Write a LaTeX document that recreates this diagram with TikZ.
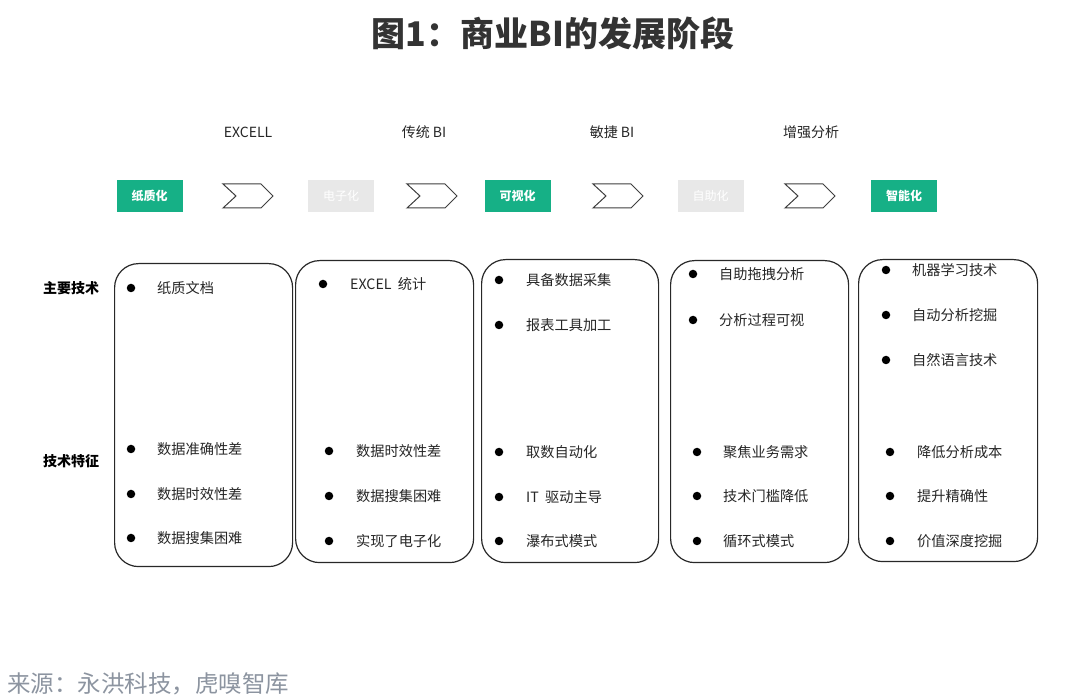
\documentclass[tikz,border=0pt]{standalone}
\usepackage{fontspec}
\setmainfont{Noto Sans CJK SC}
\usetikzlibrary{positioning}
\definecolor{stagegreen}{RGB}{22,176,134}
\definecolor{stagegray}{RGB}{232,232,232}
\definecolor{titlegray}{RGB}{51,51,51}
\definecolor{srcgray}{RGB}{140,148,160}
\definecolor{boxline}{RGB}{40,40,40}
\tikzset{
  colbox/.style={draw=boxline, line width=1.2pt, rounded corners=24pt, anchor=north west, inner sep=0pt},
  item/.style={anchor=west, inner sep=0pt, font=\fontsize{14.2}{16}\selectfont, text=black!85},
  dotmark/.style={circle, fill=black, inner sep=0pt, minimum size=8.5pt},
  rowlabel/.style={inner sep=0pt, font=\fontsize{14}{16}\selectfont\bfseries},
  stagelabel/.style={inner sep=0pt, font=\fontsize{14}{16}\selectfont, text=black!85},
  greenbox/.style={fill=stagegreen, text=white, minimum width=66pt, minimum height=32pt, inner sep=0pt, font=\fontsize{12}{14}\selectfont\bfseries},
  graybox/.style={fill=stagegray, text=white, minimum width=66pt, minimum height=32pt, inner sep=0pt, font=\fontsize{12}{14}\selectfont},
  chev/.style={draw=black!75, line width=1pt, fill=white, line join=miter}
}
\begin{document}
\begin{tikzpicture}[x=1pt,y=-1pt]
\useasboundingbox (0,0) rectangle (1080,700);
\fill[white] (0,0) rectangle (1080,700);

% title
\node[inner sep=0pt, text=titlegray, font=\fontsize{34}{38}\selectfont\bfseries] (title) at (553,33) {图1：商业BI的发展阶段};

% stage labels
\node[stagelabel] (s1) at (248,132) {EXCELL};
\node[stagelabel] (s2) at (424,132) {传统 BI};
\node[stagelabel] (s3) at (612,132) {敏捷 BI};
\node[stagelabel] (s4) at (811,132) {增强分析};

% stage boxes
\node[greenbox] (p1) at (149.5,196) {纸质化};
\node[graybox]  (p2) at (341,196) {电子化};
\node[greenbox] (p3) at (517.5,196) {可视化};
\node[graybox]  (p4) at (710.5,196) {自助化};
\node[greenbox] (p5) at (904,196) {智能化};

% chevrons
\foreach \cx in {223,407,593,785}{
  \draw[chev] (\cx,184) -- ++(38,0) -- ++(12,12) -- ++(-12,12) -- ++(-38,0) -- ++(13,-12) -- cycle;
}

% row labels
\node[rowlabel] (l1) at (71,288) {主要技术};
\node[rowlabel] (l2) at (71,461) {技术特征};

% column boxes
\node[colbox, minimum width=178pt, minimum height=303pt] (b1) at (114,263) {};
\node[colbox, minimum width=178pt, minimum height=302pt] (b2) at (295,260) {};
\node[colbox, minimum width=177pt, minimum height=303pt] (b3) at (481,259) {};
\node[colbox, minimum width=178pt, minimum height=302pt] (b4) at (670,260) {};
\node[colbox, minimum width=179pt, minimum height=302pt] (b5) at (858,259) {};

% column 1
\node[dotmark] (d11) at (131,288) {}; \node[item] (t11) at (157,288) {纸质文档};
\node[dotmark] (d12) at (131,449) {}; \node[item] (t12) at (157,449) {数据准确性差};
\node[dotmark] (d13) at (131,494) {}; \node[item] (t13) at (157,494) {数据时效性差};
\node[dotmark] (d14) at (131,538) {}; \node[item] (t14) at (157,538) {数据搜集困难};

% column 2
\node[dotmark] (d21) at (323,284) {}; \node[item] (t21) at (350,284) {EXCEL\ \ 统计};
\node[dotmark] (d22) at (329,451) {}; \node[item] (t22) at (356,451) {数据时效性差};
\node[dotmark] (d23) at (329,496) {}; \node[item] (t23) at (356,496) {数据搜集困难};
\node[dotmark] (d24) at (329,541) {}; \node[item] (t24) at (356,541) {实现了电子化};

% column 3
\node[dotmark] (d31) at (499,280) {}; \node[item] (t31) at (526,280) {具备数据采集};
\node[dotmark] (d32) at (499,325) {}; \node[item] (t32) at (526,325) {报表工具加工};
\node[dotmark] (d33) at (499,452) {}; \node[item] (t33) at (526,452) {取数自动化};
\node[dotmark] (d34) at (499,497) {}; \node[item] (t34) at (526,497) {IT\ \ 驱动主导};
\node[dotmark] (d35) at (499,541) {}; \node[item] (t35) at (526,541) {瀑布式模式};

% column 4
\node[dotmark] (d41) at (693,274) {}; \node[item] (t41) at (719,274) {自助拖拽分析};
\node[dotmark] (d42) at (693,320) {}; \node[item] (t42) at (719,320) {分析过程可视};
\node[dotmark] (d43) at (697,452) {}; \node[item] (t43) at (723,452) {聚焦业务需求};
\node[dotmark] (d44) at (697,496) {}; \node[item] (t44) at (723,496) {技术门槛降低};
\node[dotmark] (d45) at (697,541) {}; \node[item] (t45) at (723,541) {循环式模式};

% column 5
\node[dotmark] (d51) at (886,270) {}; \node[item] (t51) at (912,270) {机器学习技术};
\node[dotmark] (d52) at (886,315) {}; \node[item] (t52) at (912,315) {自动分析挖掘};
\node[dotmark] (d53) at (886,360) {}; \node[item] (t53) at (912,360) {自然语言技术};
\node[dotmark] (d54) at (890,452) {}; \node[item] (t54) at (917,452) {降低分析成本};
\node[dotmark] (d55) at (890,496) {}; \node[item] (t55) at (917,496) {提升精确性};
\node[dotmark] (d56) at (890,541) {}; \node[item] (t56) at (917,541) {价值深度挖掘};

% source
\node[anchor=west, inner sep=0pt, text=srcgray, font=\fontsize{23.5}{27}\selectfont] (src) at (7,684) {来源：永洪科技，虎嗅智库};
\end{tikzpicture}
\end{document}
